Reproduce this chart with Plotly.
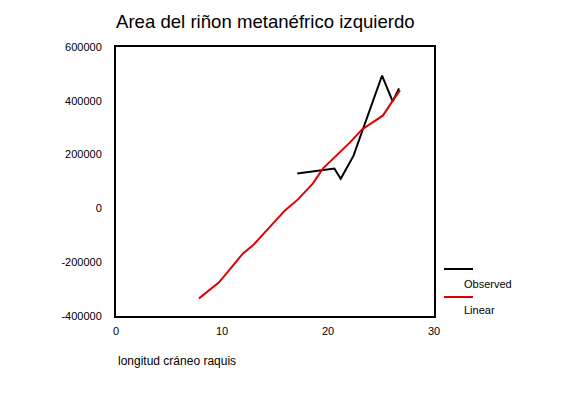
import plotly.graph_objects as go

obs_x = [17.1, 20.6, 21.2, 22.4, 25.1, 26.1, 26.7]
obs_y = [130000, 148000, 110000, 195000, 494000, 398000, 446000]

lin_x = [7.83, 8.77, 9.72, 10.66, 11.98, 12.92, 13.87, 15.47, 15.94, 17.17, 18.58, 19.53,
         21.13, 22.08, 23.21, 24.25, 25.19, 26.13, 26.79]
lin_y = [-334500, -304800, -275100, -230500, -167300, -137500, -96600, -26000, -7400, 33500,
         92900, 148700, 208200, 245300, 293600, 319700, 345700, 401500, 438600]

x_ticks = [0, 10, 20, 30]
y_ticks = [-400000, -200000, 0, 200000, 400000, 600000]
y_tick_labels = ["-400000", "-200000", "0", "200000", "400000", "600000"]

font = "Liberation Sans, Arial, sans-serif"

W, H = 572, 388
L, T = 108, 39
PW, PH = 318, 269

fig = go.Figure()
fig.add_trace(go.Scatter(x=obs_x, y=obs_y, mode="lines", name="Observed",
                         line=dict(color="black", width=2)))
fig.add_trace(go.Scatter(x=lin_x, y=lin_y, mode="lines", name="Linear",
                         line=dict(color="#e00000", width=2)))

fig.update_layout(
    width=W, height=H,
    margin=dict(l=L, r=W - L - PW, t=T, b=H - T - PH, pad=0),
    paper_bgcolor="white", plot_bgcolor="white",
    showlegend=False,
    font=dict(family=font, size=11, color="black"),
    title=dict(text="Area del riñon metanéfrico izquierdo", x=L / W, xanchor="left",
               y=1 - 13 / H, yanchor="middle", font=dict(size=18.6, family=font, color="black")),
    xaxis=dict(range=[0, 30], tickvals=x_ticks, showgrid=False, zeroline=False,
               showline=True, linecolor="black", linewidth=2, mirror=True,
               ticks="", ticklabelstandoff=4, tickfont=dict(size=11)),
    yaxis=dict(range=[-400000, 600000], tickvals=y_ticks, ticktext=y_tick_labels,
               showgrid=False, zeroline=False, showline=True, linecolor="black",
               linewidth=2, mirror=True, ticks="", ticklabelstandoff=10,
               tickfont=dict(size=11)),
)

fig.add_annotation(text="longitud cráneo raquis", xref="paper", yref="paper",
                   x=0, y=-45 / PH, xanchor="left", yanchor="middle", showarrow=False,
                   font=dict(size=12, family=font))

# legend drawn manually (reference pixel positions relative to plot frame at 116,47)
def px_x(px):
    return (px - 116) / PW
def px_y(py):
    return (316 - py) / PH

fig.add_shape(type="line", xref="paper", yref="paper", x0=px_x(444), x1=px_x(473),
              y0=px_y(269), y1=px_y(269), line=dict(color="black", width=2))
fig.add_shape(type="line", xref="paper", yref="paper", x0=px_x(444), x1=px_x(473),
              y0=px_y(297), y1=px_y(297), line=dict(color="#e00000", width=2))
fig.add_annotation(text="Observed", xref="paper", yref="paper", x=px_x(462), y=px_y(284),
                   xanchor="left", yanchor="middle", showarrow=False, font=dict(size=11, family=font))
fig.add_annotation(text="Linear", xref="paper", yref="paper", x=px_x(462), y=px_y(310),
                   xanchor="left", yanchor="middle", showarrow=False, font=dict(size=11, family=font))

fig.write_html("out.html")
